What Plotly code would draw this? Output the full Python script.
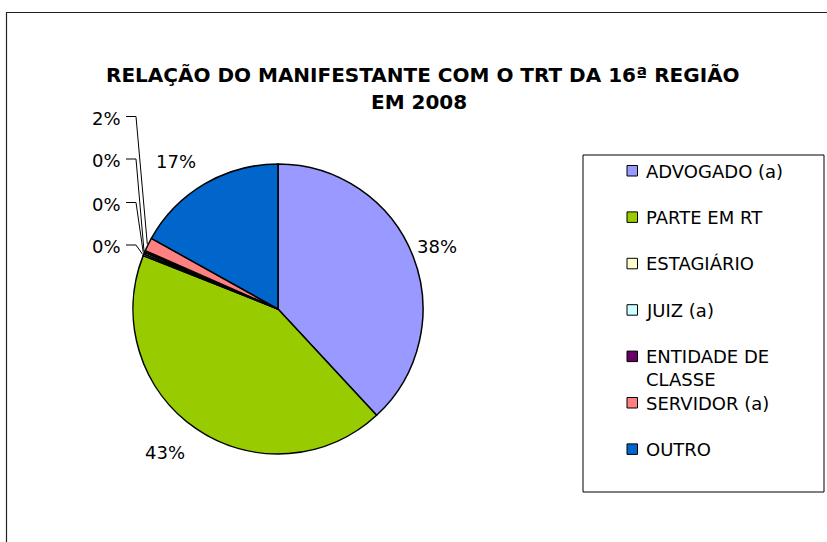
import math
import plotly.graph_objects as go

# ---------------- data ----------------
categories = ["ADVOGADO (a)", "PARTE EM RT", "ESTAGIÁRIO", "JUIZ (a)",
              "ENTIDADE DE CLASSE", "SERVIDOR (a)", "OUTRO"]
values = [38.1, 42.9, 0.2, 0.2, 0.2, 1.5, 16.9]
colors = ["#9999FF", "#99CC00", "#FFFFCC", "#CCFFFF", "#660066", "#FF8080", "#0066CC"]
legend_labels = ["ADVOGADO (a)", "PARTE EM RT", "ESTAGIÁRIO", "JUIZ (a)",
                 "ENTIDADE DE<br>CLASSE", "SERVIDOR (a)", "OUTRO"]
title_lines = ["RELAÇÃO DO MANIFESTANTE COM O TRT DA 16ª REGIÃO", "EM 2008"]

# ---------------- layout constants (pixels) ----------------
W, H = 827, 542
PIE_CX, PIE_CY, PIE_R = 278, 309, 145
FONT = "DejaVu Sans"


def px(x):
    return x / W


def py(y):
    return 1 - y / H


total = sum(values)
fracs = [v / total for v in values]
pct_text = [f"{100 * f:.0f}%" for f in fracs]

fig = go.Figure()
fig.add_trace(go.Pie(
    labels=categories, values=values, sort=False, direction="clockwise",
    rotation=0, textinfo="none", hoverinfo="label+percent",
    marker=dict(colors=colors, line=dict(color="black", width=1.5)),
    domain=dict(x=[px(PIE_CX - PIE_R), px(PIE_CX + PIE_R)],
                y=[py(PIE_CY + PIE_R), py(PIE_CY - PIE_R)]),
    showlegend=False,
))

annotations = []
shapes = []

# outer frame
shapes.append(dict(type="rect", xref="paper", yref="paper",
                   x0=px(6.5), y0=py(H + 5), x1=px(W + 5), y1=py(12.5),
                   line=dict(color="#222", width=1.2)))

# title
annotations.append(dict(text="<b>%s</b>" % title_lines[0], x=px(422.5), y=py(75.5),
                        xref="paper", yref="paper", showarrow=False,
                        xanchor="center", yanchor="middle",
                        font=dict(family=FONT, size=20, color="black")))
annotations.append(dict(text="<b>%s</b>" % title_lines[1], x=px(419), y=py(102),
                        xref="paper", yref="paper", showarrow=False,
                        xanchor="center", yanchor="middle",
                        font=dict(family=FONT, size=20, color="black")))

# data labels
big_label_radius = {"ADVOGADO (a)": 149, "PARTE EM RT": 164, "OUTRO": 162}
small_label_y = {"SERVIDOR (a)": 118, "ENTIDADE DE CLASSE": 160.5,
                 "JUIZ (a)": 204, "ESTAGIÁRIO": 246.5}
LBL_W, LBL_H = 40, 16
cum = 0.0
for cat, f, txt in zip(categories, fracs, pct_text):
    mid = (cum + f / 2) * 2 * math.pi
    cum += f
    s, c = math.sin(mid), math.cos(mid)
    if cat in big_label_radius:
        R = big_label_radius[cat]
        x = PIE_CX + R * s + math.copysign(LBL_W / 2, s)
        y = PIE_CY - R * c - math.copysign(LBL_H / 2, c)
        annotations.append(dict(text=txt, x=px(x), y=py(y), xref="paper", yref="paper",
                                showarrow=False, xanchor="center", yanchor="middle",
                                font=dict(family=FONT, size=18, color="black")))
    else:
        ly = small_label_y[cat]
        annotations.append(dict(text=txt, x=px(123), y=py(ly + 0.5), xref="paper",
                                yref="paper", showarrow=False, xanchor="right",
                                yanchor="middle",
                                font=dict(family=FONT, size=18, color="black")))
        rx = PIE_CX + (PIE_R + 1) * s
        ry = PIE_CY - (PIE_R + 1) * c
        path = "M %f %f L %f %f L %f %f" % (px(126), py(ly - 1.5), px(136), py(ly - 1.5),
                                            px(rx), py(ry))
        shapes.append(dict(type="path", xref="paper", yref="paper", path=path,
                           line=dict(color="black", width=1)))

# legend (drawn manually to reproduce spacing)
shapes.append(dict(type="rect", xref="paper", yref="paper",
                   x0=px(583), y0=py(492), x1=px(824), y1=py(155),
                   line=dict(color="black", width=1), fillcolor="white", layer="below"))
LEG_Y0, LEG_DY = 170.5, 46.4
for i, (lab, col) in enumerate(zip(legend_labels, colors)):
    yc = LEG_Y0 + i * LEG_DY
    shapes.append(dict(type="rect", xref="paper", yref="paper",
                       x0=px(627), x1=px(637.5), y0=py(yc + 5.5), y1=py(yc - 5),
                       line=dict(color="black", width=1), fillcolor=col))
    nlines = lab.count("<br>") + 1
    ytxt = yc + (nlines - 1) * 11
    annotations.append(dict(text=lab, x=px(644), y=py(ytxt + 0.5), xref="paper",
                            yref="paper", showarrow=False, xanchor="left",
                            yanchor="middle", align="left",
                            font=dict(family=FONT, size=18, color="black")))

fig.update_layout(
    width=W, height=H, margin=dict(l=0, r=0, t=0, b=0),
    paper_bgcolor="white", plot_bgcolor="white",
    shapes=shapes, annotations=annotations,
)

fig.write_html("out.html", config={"displayModeBar": False},
               post_script=["document.body.style.margin='0px';"
                            "document.body.style.overflow='hidden';"])
